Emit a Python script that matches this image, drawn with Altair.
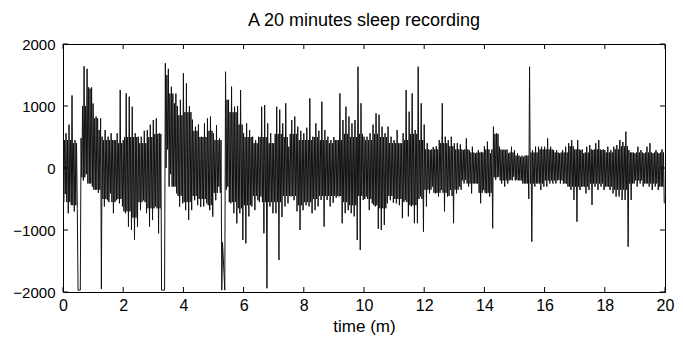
import altair as alt
import pandas as pd

# Peak excursions of the recording, read every 0.1 minute
upper = [
    500, 560, 700, 1170, 450, -1970, 480, 1640, 1600, 1280,
    1040, 830, 613, 505, 613, 505, 560, 450, 560, 1258,
    450, 1204, 1150, 989, 560, 505, 505, 600, 613, 700,
    774, 800, 560, -1970, 1690, 1600, 1310, 1043, 1000, 1100,
    1527, 1365, 1000, 780, 667, 700, 505, 720, 800, 830,
    560, 690, 480, -1200, 1553, 1100, 1312, 989, 1000, 1258,
    560, 720, 613, 505, 450, 505, 989, 1016, 720, 560,
    400, 989, 940, 720, 1043, 344, 774, 830, 667, 600,
    559, 650, 1123, 505, 720, 600, 1070, 613, 505, 450,
    500, 450, 1204, 774, 989, 830, 720, 774, 1634, 1043,
    505, 505, 560, 700, 882, 860, 667, 560, 667, 505,
    450, 613, 400, 560, 1258, 909, 1204, 613, 1634, 1043,
    700, 400, 290, 340, 350, 450, 1043, 505, 450, 505,
    400, 400, 380, 290, 478, 290, 344, 237, 290, 260,
    350, 425, 237, 667, 559, 344, 290, 290, 237, 344,
    290, 237, 180, 180, 200, 1634, 290, 344, 344, 344,
    344, 478, 344, 290, 290, 237, 290, 344, 400, 451,
    300, 451, 290, 237, 344, 370, 290, 400, 451, 290,
    290, 344, 290, 344, 370, 451, 420, 586, 290, 250,
    237, 344, 290, 237, 344, 400, 237, 290, 237, 300,
]

lower = [
    -420, -730, -600, -700, -650, -1970, -200, -100, -250, -300,
    -350, -400, -1950, -620, -520, -410, -730, -520, -570, -620,
    -730, -946, -1000, -1161, -950, -680, -520, -730, -946, -840,
    -620, -1054, -1970, -1970, 300, -100, -300, -410, -623, -570,
    -680, -838, -680, -520, -600, -630, -620, -570, -680, -785,
    -520, -300, -1970, -1970, -300, -570, -730, -892, -730, -1161,
    -1215, -780, -620, -680, -520, -460, -1054, -1940, -620, -730,
    -730, -1484, -790, -620, -570, -460, -520, -700, -1000, -680,
    -600, -620, -730, -680, -620, -516, -946, -516, -620, -560,
    -480, -460, -892, -730, -680, -730, -780, -1161, -1322, -516,
    -460, -680, -570, -620, -980, -1000, -920, -570, -520, -560,
    -570, -600, -810, -520, -780, -620, -890, -890, -460, -1027,
    -620, -410, -300, -410, -460, -355, -700, -460, -355, -890,
    -410, -300, -200, -193, -300, -410, -250, -250, -570, -355,
    -410, -460, -973, -190, -140, -250, -300, -250, -190, -140,
    -190, -200, -250, -250, -500, -1188, -300, -250, -355, -300,
    -300, -250, -250, -250, -193, -200, -250, -300, -355, -516,
    -866, -355, -300, -410, -355, -597, -300, -355, -300, -355,
    -300, -355, -410, -460, -460, -516, -516, -1269, -516, -250,
    -300, -250, -300, -250, -300, -355, -300, -355, -300, -570,
]

# Typical edges of the dense dark band, read every 0.25 minute
band_hi = [
    450, 400, 1000, 1300, 800, 450, 450, 400,
    500, 500, 400, 500, 550, 1500, 1200, 850,
    900, 600, 500, 600, 450, 1100, 900, 700,
    500, 400, 500, 400, 550, 500, 550, 450,
    450, 500, 450, 400, 450, 550, 500, 550,
    450, 550, 500, 400, 400, 450, 550, 450,
    300, 300, 400, 350, 300, 300, 250, 250,
    300, 550, 300, 250, 200, 200, 250, 300,
    300, 250, 250, 350, 300, 250, 300, 300,
    250, 300, 350, 250, 250, 250, 250, 250,
]
band_lo = [
    -550, -600, -150, -250, -350, -500, -550, -500,
    -700, -800, -550, -650, -650, 0, -300, -450,
    -550, -450, -500, -600, -400, -350, -550, -650,
    -600, -450, -550, -550, -550, -450, -450, -600,
    -550, -500, -450, -450, -450, -550, -600, -450,
    -500, -600, -650, -450, -500, -550, -600, -500,
    -350, -400, -400, -450, -350, -250, -250, -400,
    -400, -150, -200, -200, -200, -250, -250, -250,
    -200, -200, -250, -300, -300, -300, -250, -250,
    -300, -350, -350, -250, -200, -250, -250, -300,
]

x_ticks = [0, 2, 4, 6, 8, 10, 12, 14, 16, 18, 20]
y_ticks = [-2000, -1000, 0, 1000, 2000]

rows = []
for k in range(len(upper)):
    t = k / 10
    b = (k * 2) // 5
    rows.append({"t": t, "v": upper[k]})
    if upper[k] > -1000:
        rows.append({"t": t + 0.025, "v": band_lo[b]})
        rows.append({"t": t + 0.05, "v": band_hi[b]})
    rows.append({"t": t + 0.075, "v": lower[k]})
df = pd.DataFrame(rows)

W, H = 602, 248
FONT = "Liberation Sans"

xscale = alt.Scale(domain=[0, 20], nice=False, zero=False)
yscale = alt.Scale(domain=[-2000, 2000], nice=False, zero=False)

line = alt.Chart(df).mark_line(color="#111111", strokeWidth=1.0, clip=True).encode(
    x=alt.X("t:Q", scale=xscale, title="time (m)",
            axis=alt.Axis(values=x_ticks, ticks=False, domain=False, grid=False,
                          format="d",
                          labelFontSize=16, labelFont=FONT, labelColor="black",
                          labelPadding=5, titleFont=FONT, titleFontSize=17,
                          titleFontWeight="normal", titleColor="black", titlePadding=5,
                          labelFlush=False)),
    y=alt.Y("v:Q", scale=yscale, title=None,
            axis=alt.Axis(values=y_ticks, ticks=False, domain=False, grid=False,
                          format="d",
                          labelFontSize=15, labelFont=FONT, labelColor="black",
                          labelPadding=8, labelFlush=False)),
)

xt = pd.DataFrame({"t": x_ticks})
yt = pd.DataFrame({"v": y_ticks})

bottom_ticks = alt.Chart(xt).mark_rule(color="black", strokeWidth=1).encode(
    x=alt.X("t:Q", scale=xscale), y=alt.value(H), y2=alt.value(H - 5))
top_ticks = alt.Chart(xt).mark_rule(color="black", strokeWidth=1).encode(
    x=alt.X("t:Q", scale=xscale), y=alt.value(0), y2=alt.value(5))
left_ticks = alt.Chart(yt).mark_rule(color="black", strokeWidth=1).encode(
    y=alt.Y("v:Q", scale=yscale), x=alt.value(0), x2=alt.value(5))
right_ticks = alt.Chart(yt).mark_rule(color="black", strokeWidth=1).encode(
    y=alt.Y("v:Q", scale=yscale), x=alt.value(W), x2=alt.value(W - 5))

chart = alt.layer(line, bottom_ticks, top_ticks, left_ticks, right_ticks).properties(
    width=W, height=H,
    title=alt.TitleParams("A 20 minutes sleep recording", font=FONT, fontSize=18,
                          fontWeight="normal", color="black", offset=7),
    autosize=alt.AutoSizeParams(type="none"),
    padding={"left": 63, "top": 44, "right": 18, "bottom": 49},
).configure(background="white").configure_view(stroke="black", strokeWidth=1)

chart.save("out.html", embed_options={"renderer": "svg", "actions": False})
